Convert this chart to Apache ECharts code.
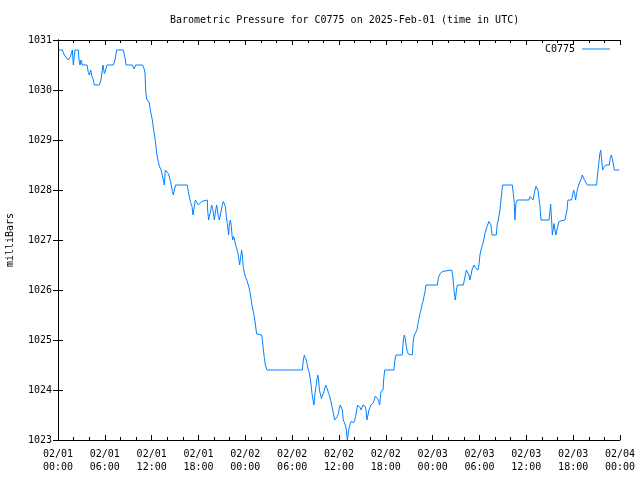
<!DOCTYPE html>
<html>
<head>
<meta charset="utf-8">
<script src="https://cdn.jsdelivr.net/npm/echarts@6/dist/echarts.min.js"></script>
<style>html,body{margin:0;padding:0;background:#fff}#c{width:640px;height:480px}</style>
</head>
<body>
<div id="c"></div>
<script>
// Hours since 2025-02-01 00:00 UTC
var hours = [0.1,0.55,0.81,1.0,1.32,1.54,1.84,1.96,2.18,2.6,2.69,2.82,2.95,3.12,3.72,3.89,4.01,4.19,4.31,4.53,4.65,5.3,5.51,5.59,5.76,5.94,6.11,6.28,7.09,7.3,7.52,8.37,8.63,8.71,9.52,9.74,9.95,10.8,11.02,11.15,11.23,11.4,11.66,11.87,12.08,12.26,12.43,12.55,12.68,12.85,12.98,13.2,13.41,13.54,13.62,13.75,13.92,14.13,
14.26,14.43,14.65,14.78,14.9,15.07,16.57,16.7,16.82,16.99,17.17,17.29,17.47,17.59,17.8,17.98,18.23,18.4,18.62,19.13,19.17,19.3,19.39,19.52,19.68,19.81,19.94,20.03,20.2,20.33,20.41,20.54,20.67,20.8,20.93,21.05,21.18,21.31,21.44,21.57,21.69,21.78,21.86,21.95,22.08,22.21,22.29,22.38,22.5,22.63,22.76,22.89,23.02,23.15,23.27,23.4,23.53,23.62,23.74,23.87,24.04,24.21,24.38,24.55,24.72,24.85,25.03,25.15,25.28,25.45,25.54,26.1,26.18,26.31,26.43,26.56,26.78,
31.3,31.43,31.56,31.68,31.81,31.94,32.07,32.2,32.33,32.45,32.54,32.67,32.79,32.92,33.05,33.18,33.27,33.39,33.48,33.61,33.74,33.86,33.99,34.12,34.29,34.42,34.55,34.67,34.8,34.93,35.06,35.19,35.32,35.44,35.66,35.79,35.91,36.04,36.17,36.3,36.43,36.55,36.68,36.81,36.94,37.07,37.19,37.28,37.41,37.54,37.67,37.75,37.88,38.01,38.13,38.26,38.39,38.56,38.69,38.82,38.94,39.07,39.2,39.33,39.46,39.58,39.71,39.84,39.97,40.1,40.27,40.4,40.52,40.65,40.82,40.95,41.08,41.21,41.29,41.38,41.51,41.64,41.72,41.85,
43.04,43.17,43.3,44.11,44.24,44.37,44.49,44.62,44.75,44.88,45.01,45.39,45.52,45.65,45.86,45.99,46.12,46.25,46.37,46.5,46.63,46.76,46.89,47.02,47.14,48.6,48.72,48.85,49.06,49.24,49.36,50.43,50.56,50.69,50.82,50.9,51.03,51.16,51.93,52.06,52.18,52.31,52.48,52.65,52.78,52.91,53.04,53.16,53.29,53.42,53.55,53.68,53.81,53.93,54.06,54.19,54.32,54.44,54.57,54.7,54.83,54.96,55.09,55.21,55.34,55.47,55.6,56.15,56.28,56.41,
56.62,56.84,56.96,58.2,58.33,58.46,58.54,58.67,58.84,60.34,60.47,60.59,60.72,60.85,60.98,61.11,61.24,61.36,61.49,61.62,61.75,61.88,62.9,63.03,63.11,63.24,63.33,63.46,63.54,63.67,63.79,63.92,64.05,64.18,64.31,64.95,65.08,65.21,65.33,65.8,65.93,66.06,66.19,66.31,66.44,66.57,66.7,66.91,67.04,67.17,67.3,67.42,67.55,67.81,69.0,69.13,69.26,69.39,69.52,69.64,69.77,69.9,70.03,70.16,70.63,70.75,70.88,71.01,71.14,71.27,71.91];

var pressure = [1030.8,1030.8,1030.7,1030.67,1030.6,1030.65,1030.8,1030.5,1030.8,1030.8,1030.6,1030.5,1030.6,1030.5,1030.5,1030.35,1030.3,1030.4,1030.3,1030.2,1030.1,1030.1,1030.2,1030.3,1030.5,1030.33,1030.4,1030.5,1030.5,1030.6,1030.8,1030.8,1030.6,1030.5,1030.5,1030.42,1030.5,1030.5,1030.43,1030.33,1029.97,1029.8,1029.77,1029.57,1029.4,1029.2,1029.03,1028.88,1028.7,1028.57,1028.48,1028.4,1028.38,1028.17,1028.1,1028.4,1028.38,1028.33,
1028.3,1028.17,1027.97,1027.9,1028.0,1028.1,1028.1,1027.97,1027.87,1027.75,1027.67,1027.5,1027.67,1027.8,1027.77,1027.7,1027.7,1027.77,1027.8,1027.8,1027.6,1027.4,1027.47,1027.55,1027.7,1027.63,1027.5,1027.4,1027.6,1027.7,1027.67,1027.47,1027.4,1027.5,1027.6,1027.7,1027.77,1027.8,1027.67,1027.47,1027.33,1027.2,1027.1,1027.3,1027.4,1027.27,1027.1,1027.0,1027.07,1027.0,1026.9,1026.83,1026.75,1026.65,1026.5,1026.65,1026.8,1026.68,1026.45,1026.35,1026.25,1026.19,1026.1,1026.0,1025.83,1025.7,1025.67,1025.47,1025.32,1025.12,1025.1,1025.1,1025.0,1024.8,1024.65,1024.5,1024.4,
1024.4,1024.6,1024.7,1024.65,1024.6,1024.5,1024.4,1024.35,1024.21,1024.07,1023.93,1023.8,1023.7,1023.93,1024.07,1024.21,1024.3,1024.2,1024.0,1023.93,1023.83,1023.8,1023.93,1024.0,1024.1,1024.07,1024.0,1023.93,1023.88,1023.79,1023.7,1023.6,1023.5,1023.4,1023.4,1023.47,1023.53,1023.63,1023.7,1023.68,1023.6,1023.4,1023.39,1023.3,1023.2,1023.0,1023.0,1023.23,1023.3,1023.37,1023.4,1023.33,1023.35,1023.4,1023.47,1023.6,1023.7,1023.7,1023.65,1023.6,1023.63,1023.7,1023.7,1023.68,1023.6,1023.4,1023.5,1023.6,1023.65,1023.7,1023.7,1023.75,1023.8,1023.88,1023.88,1023.83,1023.77,1023.7,1023.83,1023.97,1024.0,1024.0,1024.2,1024.4,
1024.4,1024.6,1024.7,1024.7,1025.0,1025.1,1025.03,1024.87,1024.77,1024.72,1024.7,1024.7,1025.0,1025.1,1025.1,1025.2,1025.33,1025.43,1025.53,1025.6,1025.7,1025.77,1025.87,1025.97,1026.1,1026.1,1026.23,1026.3,1026.3,1026.37,1026.4,1026.4,1026.3,1026.07,1025.87,1025.8,1025.97,1026.1,1026.1,1026.2,1026.3,1026.4,1026.4,1026.3,1026.2,1026.3,1026.4,1026.43,1026.5,1026.47,1026.43,1026.43,1026.4,1026.5,1026.7,1026.8,1026.8,1026.93,1027.03,1027.13,1027.17,1027.27,1027.3,1027.37,1027.4,1027.3,1027.1,1027.1,1027.33,1027.4,
1027.6,1027.93,1028.1,1028.1,1027.93,1027.73,1027.4,1027.73,1027.8,1027.8,1027.87,1027.91,1027.87,1027.8,1027.9,1028.0,1028.07,1028.1,1028.0,1027.83,1027.67,1027.4,1027.4,1027.57,1027.72,1027.4,1027.1,1027.23,1027.33,1027.2,1027.1,1027.2,1027.3,1027.37,1027.4,1027.4,1027.5,1027.6,1027.8,1027.8,1027.9,1028.0,1027.93,1027.8,1027.93,1028.03,1028.1,1028.13,1028.23,1028.3,1028.27,1028.21,1028.19,1028.1,1028.1,1028.33,1028.5,1028.7,1028.8,1028.63,1028.4,1028.45,1028.48,1028.5,1028.5,1028.63,1028.7,1028.63,1028.52,1028.4,1028.4];

var seriesName = 'C0775';
var titleText = 'Barometric Pressure for C0775 on 2025-Feb-01 (time in UTC)';
var yTicks = [1023,1024,1025,1026,1027,1028,1029,1030,1031];

var data = hours.map(function (h, i) { return [h, pressure[i]]; });
var FONT = 'DejaVu Sans Mono';

function xLabel(h) {
  var day = 1 + Math.floor(h / 24 + 1e-9);
  var hh = Math.round(h - (day - 1) * 24);
  return '02/' + (day < 10 ? '0' + day : day) + '\n' + (hh < 10 ? '0' + hh : hh) + ':00';
}

var chart = echarts.init(document.getElementById('c'), null, {renderer: 'canvas'});
var axisLine = {show: true, lineStyle: {color: '#000', width: 1}};
chart.setOption({
  animation: false,
  backgroundColor: '#fff',
  title: {
    text: titleText, left: 165, top: 10,
    textStyle: {fontFamily: FONT, fontSize: 10, fontWeight: 'normal', color: '#000'}
  },
  legend: {
    data: [{name: seriesName, icon: 'rect'}], right: 25, top: 39, align: 'right',
    itemWidth: 28, itemHeight: 1,
    textStyle: {fontFamily: FONT, fontSize: 10, color: '#000', padding: [0, 2, 0, 0]}
  },
  grid: {left: 58, right: 20, top: 40, bottom: 40, containLabel: false, outerBoundsMode: 'none'},
  xAxis: [{
    type: 'value', min: 0, max: 72, interval: 6, position: 'bottom',
    axisLine: axisLine,
    axisTick: {show: true, inside: true, length: 5, lineStyle: {color: '#000'}},
    minorTick: {show: true, splitNumber: 3, length: 3, lineStyle: {color: '#000'}},
    splitLine: {show: false},
    axisLabel: {formatter: xLabel, fontFamily: FONT, fontSize: 10, color: '#000', margin: 8, lineHeight: 13}
  }, {
    type: 'value', min: 0, max: 72, interval: 6, position: 'top',
    axisLine: axisLine,
    axisTick: {show: true, inside: true, length: 5, lineStyle: {color: '#000'}},
    minorTick: {show: true, splitNumber: 3, length: 3, lineStyle: {color: '#000'}},
    splitLine: {show: false},
    axisLabel: {show: false}
  }],
  yAxis: [{
    type: 'value', min: yTicks[0], max: yTicks[yTicks.length - 1], interval: 1, position: 'left',
    name: 'milliBars', nameLocation: 'middle', nameGap: 43, nameRotate: 90,
    nameTextStyle: {fontFamily: FONT, fontSize: 10, color: '#000'},
    axisLine: axisLine,
    axisTick: {show: true, inside: true, length: 5, lineStyle: {color: '#000'}},
    splitLine: {show: false},
    axisLabel: {fontFamily: FONT, fontSize: 10, color: '#000', margin: 6, formatter: function (v) { return String(v); }}
  }, {
    type: 'value', min: yTicks[0], max: yTicks[yTicks.length - 1], interval: 1, position: 'right',
    axisLine: axisLine,
    axisTick: {show: true, inside: true, length: 5, lineStyle: {color: '#000'}},
    splitLine: {show: false},
    axisLabel: {show: false}
  }],
  series: [{
    name: seriesName, type: 'line', data: data,
    xAxisIndex: 0, yAxisIndex: 0,
    symbol: 'none', showSymbol: false,
    lineStyle: {color: '#0080ff', width: 1},
    itemStyle: {color: '#0080ff'},
    clip: true
  }]
});
</script>
</body>
</html>
